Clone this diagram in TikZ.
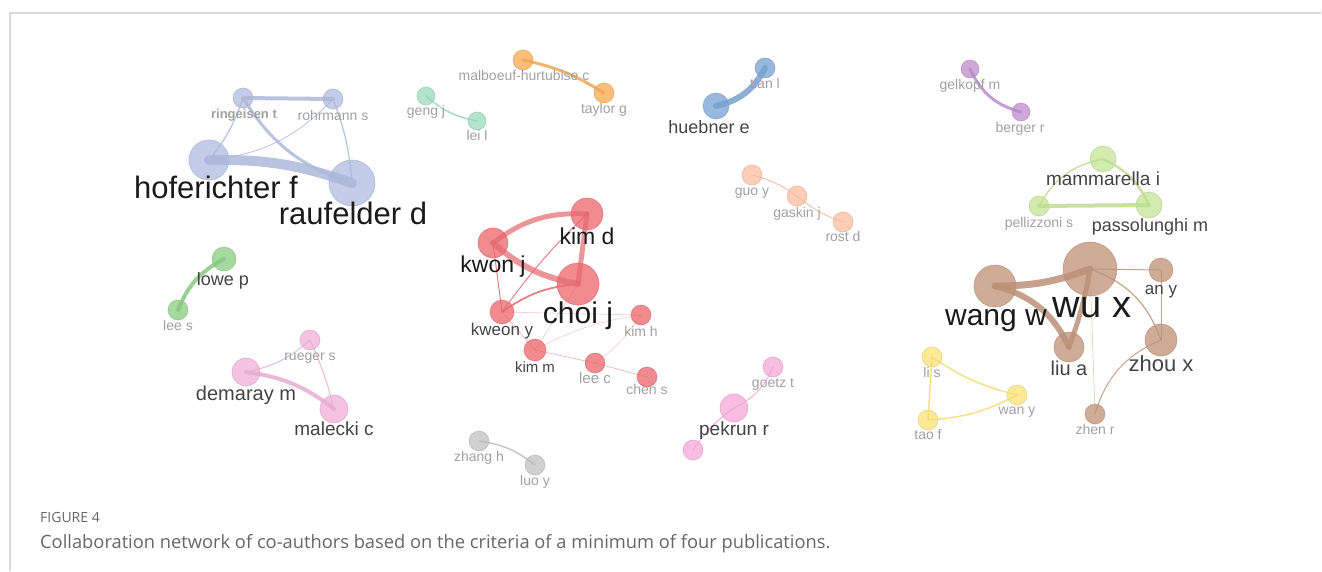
\documentclass[tikz,border=0pt]{standalone}
\usepackage{fontspec}
\setmainfont{Liberation Sans}
\newfontfamily\capfont{Open Sans}

\definecolor{bluegray}{HTML}{B4BFE2}
\definecolor{teal}{HTML}{A0DCC0}
\definecolor{orange}{HTML}{FAAE58}
\definecolor{blue}{HTML}{7EA8D4}
\definecolor{purple}{HTML}{C092D0}
\definecolor{peach}{HTML}{FCC0A4}
\definecolor{lime}{HTML}{C8E69A}
\definecolor{brown}{HTML}{C4977E}
\definecolor{yellow}{HTML}{FDE47A}
\definecolor{red}{HTML}{EE6E74}
\definecolor{green}{HTML}{90D088}
\definecolor{pink}{HTML}{F0B4DA}
\definecolor{pinkb}{HTML}{F6ACD8}
\definecolor{gray}{HTML}{C4C4C4}
\definecolor{ink}{HTML}{1A1A1A}
\definecolor{inkmid}{HTML}{444444}
\definecolor{inklight}{HTML}{A0A0A0}
\definecolor{framec}{HTML}{D9D9D9}
\definecolor{capc}{HTML}{666666}

\begin{document}
\begin{tikzpicture}[x=1pt,y=-1pt,
  au/.style={circle, fill=#1, draw=#1!85!black, fill opacity=0.8, draw opacity=0.5, line width=0.8, inner sep=0pt},
  link/.style={draw=#1!96!black, draw opacity=0.85, line cap=round},
  lab/.style={inner sep=0pt, anchor=base, font=\fontsize{#1}{#1}\selectfont},
  dark/.style={text=ink}, mid/.style={text=inkmid}, light/.style={text=inklight}]
\useasboundingbox (0,0) rectangle (1322,571);

%----------------------------------------------------------
	% Frame
	%------------------------------------------------------
	\draw[framec, line width=1.5] (10,571) -- (10,13) -- (1321,13);

	% Authors
	%------------------------------------------------------
	\node[au=bluegray, minimum size=20] (ring) at (243,98) {};
	\node[au=bluegray, minimum size=20] (rohr) at (333,99) {};
	\node[au=bluegray, minimum size=40] (hof) at (209,160) {};
	\node[au=bluegray, minimum size=46] (rauf) at (352,183) {};

	\node[au=teal, minimum size=18] (geng) at (426,96) {};
	\node[au=teal, minimum size=18] (lei) at (477,121) {};

	\node[au=orange, minimum size=20] (malb) at (523,60) {};
	\node[au=orange, minimum size=20] (tayl) at (604,93) {};

	\node[au=blue, minimum size=26] (hueb) at (716,106) {};
	\node[au=blue, minimum size=20] (tian) at (765,68) {};

	\node[au=purple, minimum size=18] (gelk) at (970,69) {};
	\node[au=purple, minimum size=18] (berg) at (1021,112) {};

	\node[au=peach, minimum size=20] (guo) at (752,175) {};
	\node[au=peach, minimum size=20] (gask) at (797,196) {};
	\node[au=peach, minimum size=20] (rost) at (843,222) {};

	\node[au=lime, minimum size=26] (mamm) at (1103,159) {};
	\node[au=lime, minimum size=20] (pell) at (1039,206) {};
	\node[au=lime, minimum size=26] (pass) at (1149,205) {};

	\node[au=brown, minimum size=54] (wux) at (1090,269) {};
	\node[au=brown, minimum size=42] (wang) at (995,286) {};
	\node[au=brown, minimum size=24] (any) at (1161,270) {};
	\node[au=brown, minimum size=30] (liua) at (1069,347) {};
	\node[au=brown, minimum size=32] (zhou) at (1161,340) {};
	\node[au=brown, minimum size=20] (zhen) at (1095,414) {};

	\node[au=yellow, minimum size=20] (lis) at (932,357) {};
	\node[au=yellow, minimum size=20] (wany) at (1017,395) {};
	\node[au=yellow, minimum size=20] (taof) at (928,420) {};

	\node[au=red, minimum size=42] (choi) at (578,284) {};
	\node[au=red, minimum size=32] (kimd) at (587,214) {};
	\node[au=red, minimum size=30] (kwon) at (493,243) {};
	\node[au=red, minimum size=24] (kweo) at (502,312) {};
	\node[au=red, minimum size=20] (kimh) at (641,315) {};
	\node[au=red, minimum size=22] (kimm) at (535,350) {};
	\node[au=red, minimum size=20] (leec) at (595,363) {};
	\node[au=red, minimum size=20] (chen) at (647,377) {};

	\node[au=green, minimum size=24] (lowe) at (224,259) {};
	\node[au=green, minimum size=20] (lees) at (178,310) {};

	\node[au=pink, minimum size=28] (dema) at (246,372) {};
	\node[au=pink, minimum size=20] (rueg) at (310,340) {};
	\node[au=pink, minimum size=28] (male) at (334,409) {};

	\node[au=pinkb, minimum size=28] (pekr) at (734,408) {};
	\node[au=pinkb, minimum size=20] (goet) at (773,367) {};
	\node[au=pinkb, minimum size=20] (pkx) at (693,450) {};

	\node[au=gray, minimum size=20] (zhan) at (479,441) {};
	\node[au=gray, minimum size=20] (luoy) at (535,465) {};

	% Links
	%------------------------------------------------------
	\draw[link=bluegray, line width=10] (hof.center) to[bend left=10] (rauf.center);
	\draw[link=bluegray, line width=4] (ring.center) -- (rohr.center);
	\draw[link=bluegray, line width=3] (ring.center) to[bend right=20] (rauf.center);
	\draw[link=bluegray, line width=1.2] (ring.center) to[bend left=10] (hof.center);
	\draw[link=bluegray, line width=0.8] (hof.center) to[bend right=20] (rohr.center);
	\draw[link=bluegray, line width=1.2] (rohr.center) to[bend left=8] (rauf.center);

	\draw[link=teal, line width=1.5] (geng.center) to[bend right=15] (lei.center);
	\draw[link=orange, line width=3] (malb.center) to[bend left=10] (tayl.center);
	\draw[link=blue, line width=6] (hueb.center) to[bend right=25] (tian.center);
	\draw[link=purple, line width=3] (gelk.center) to[bend right=25] (berg.center);

	\draw[link=peach, line width=1] (guo.center) to[bend left=10] (gask.center);
	\draw[link=peach, line width=1] (gask.center) to[bend right=10] (rost.center);

	\draw[link=lime, line width=1.5] (pell.center) to[bend left=25] (mamm.center);
	\draw[link=lime, line width=2.5] (mamm.center) to[bend left=20] (pass.center);
	\draw[link=lime, line width=4] (pell.center) -- (pass.center);

	\draw[link=brown, line width=7] (wang.center) to[bend right=10] (wux.center);
	\draw[link=brown, line width=6] (wang.center) to[bend left=25] (liua.center);
	\draw[link=brown, line width=5] (wux.center) to[bend left=5] (liua.center);
	\draw[link=brown, line width=1] (wux.center) -- (any.center);
	\draw[link=brown, line width=1] (any.center) -- (zhou.center);
	\draw[link=brown, line width=1.2] (wux.center) to[bend left=25] (zhou.center);
	\draw[link=brown, line width=0.6, draw opacity=0.5] (wux.center) -- (zhen.center);
	\draw[link=brown, line width=1] (zhou.center) to[bend right=25] (zhen.center);

	\draw[link=yellow, line width=1.5] (lis.center) to[bend right=10] (wany.center);
	\draw[link=yellow, line width=1.5] (lis.center) -- (taof.center);
	\draw[link=yellow, line width=1.5] (taof.center) to[bend right=12] (wany.center);

	\draw[link=red, line width=5, draw opacity=0.7] (kwon.center) to[bend left=20] (kimd.center);
	\draw[link=red, line width=5, draw opacity=0.7] (kimd.center) -- (choi.center);
	\draw[link=red, line width=6, draw opacity=0.7] (kwon.center) to[bend right=15] (choi.center);
	\draw[link=red, line width=1] (kwon.center) -- (kweo.center);
	\draw[link=red, line width=1] (kweo.center) to[bend left=5] (kimd.center);
	\draw[link=red, line width=1.8] (kweo.center) to[bend left=15] (choi.center);
	\draw[link=red, line width=0.6, draw opacity=0.35] (kweo.center) -- (kimh.center);
	\draw[link=red, line width=0.8, draw opacity=0.45] (kweo.center) -- (kimm.center);
	\draw[link=red, line width=0.7, draw opacity=0.35] (kimm.center) -- (choi.center);
	\draw[link=red, line width=0.6, draw opacity=0.35] (kimm.center) to[bend left=10] (kimh.center);
	\draw[link=red, line width=0.8, draw opacity=0.45] (kimm.center) -- (leec.center);
	\draw[link=red, line width=0.8, draw opacity=0.45] (leec.center) -- (chen.center);
	\draw[link=red, line width=0.6, draw opacity=0.35] (leec.center) to[bend right=10] (kimh.center);

	\draw[link=green, line width=4] (lowe.center) to[bend right=20] (lees.center);

	\draw[link=pink, line width=4] (dema.center) to[bend left=15] (male.center);
	\draw[link=pink, line width=1] (dema.center) to[bend right=15] (rueg.center);
	\draw[link=pink, line width=1] (rueg.center) to[bend left=5] (male.center);

	\draw[link=pinkb, line width=1] (pkx.center) to[bend left=10] (pekr.center);
	\draw[link=pinkb, line width=1] (pekr.center) to[bend right=20] (goet.center);

	\draw[link=gray, line width=1.5] (zhan.center) to[bend left=15] (luoy.center);

	% Labels
	%------------------------------------------------------
	\node[lab=13, light, font=\fontsize{13}{13}\selectfont\bfseries] (ringL) at (244,118) {ringeisen t};
	\node[lab=14, light] (rohrL) at (333,120) {rohrmann s};
	\node[lab=31, dark] (hofL) at (216,198) {hoferichter f};
	\node[lab=31, dark] (raufL) at (353,224) {raufelder d};

	\node[lab=14, light] (gengL) at (426,115) {geng j};
	\node[lab=14, light] (leiL) at (477,140) {lei l};
	\node[lab=14, light] (malbL) at (524,80) {malboeuf-hurtubise c};
	\node[lab=14, light] (taylL) at (604,113) {taylor g};
	\node[lab=18, mid] (huebL) at (709,133) {huebner e};
	\node[lab=14, light] (tianL) at (765,88) {tian l};
	\node[lab=14, light] (gelkL) at (970,89) {gelkopf m};
	\node[lab=14, light] (bergL) at (1020,132) {berger r};

	\node[lab=14, light] (guoL) at (752,195) {guo y};
	\node[lab=14, light] (gaskL) at (797,217) {gaskin j};
	\node[lab=14, light] (rostL) at (843,241) {rost d};

	\node[lab=19, mid] (mammL) at (1103,185) {mammarella i};
	\node[lab=14, light] (pellL) at (1039,227) {pellizzoni s};
	\node[lab=18, mid] (passL) at (1150,231) {passolunghi m};

	\node[lab=38, dark] (wuxL) at (1092,317) {wu x};
	\node[lab=30, dark] (wangL) at (996,325) {wang w};
	\node[lab=17, mid] (anyL) at (1161,294) {an y};
	\node[lab=20, mid] (liuaL) at (1069,375) {liu a};
	\node[lab=22, mid] (zhouL) at (1161,371) {zhou x};
	\node[lab=14, light] (zhenL) at (1095,434) {zhen r};

	\node[lab=14, light] (lisL) at (932,377) {li s};
	\node[lab=14, light] (wanyL) at (1017,414) {wan y};
	\node[lab=14, light] (taofL) at (928,439) {tao f};

	\node[lab=30, dark] (choiL) at (578,323) {choi j};
	\node[lab=23, dark] (kimdL) at (587,244) {kim d};
	\node[lab=23, dark] (kwonL) at (493,272) {kwon j};
	\node[lab=17, mid] (kweoL) at (502,335) {kweon y};
	\node[lab=14, light] (kimhL) at (641,336) {kim h};
	\node[lab=15, mid] (kimmL) at (535,372) {kim m};
	\node[lab=15, light] (leecL) at (595,383) {lee c};
	\node[lab=14, light] (chenL) at (647,394) {chen s};

	\node[lab=18, mid] (loweL) at (223,285) {lowe p};
	\node[lab=14, light] (leesL) at (178,330) {lee s};

	\node[lab=20, mid] (demaL) at (246,400) {demaray m};
	\node[lab=14, light] (ruegL) at (310,360) {rueger s};
	\node[lab=19, mid] (maleL) at (334,435) {malecki c};

	\node[lab=19, mid] (pekrL) at (734,435) {pekrun r};
	\node[lab=14, light] (goetL) at (773,387) {goetz t};

	\node[lab=14, light] (zhanL) at (479,461) {zhang h};
	\node[lab=14, light] (luoyL) at (535,485) {luo y};

	% Caption
	%------------------------------------------------------
	\node[inner sep=0pt, anchor=base west, text=capc, font=\capfont\fontsize{14}{14}\selectfont] (figL) at (40,522) {FIGURE 4};
	\node[inner sep=0pt, anchor=base west, text=capc, font=\capfont\fontsize{18.3}{18.3}\selectfont] (capL) at (40,548) {Collaboration network of co-authors based on the criteria of a minimum of four publications.};

\end{tikzpicture}
\end{document}
